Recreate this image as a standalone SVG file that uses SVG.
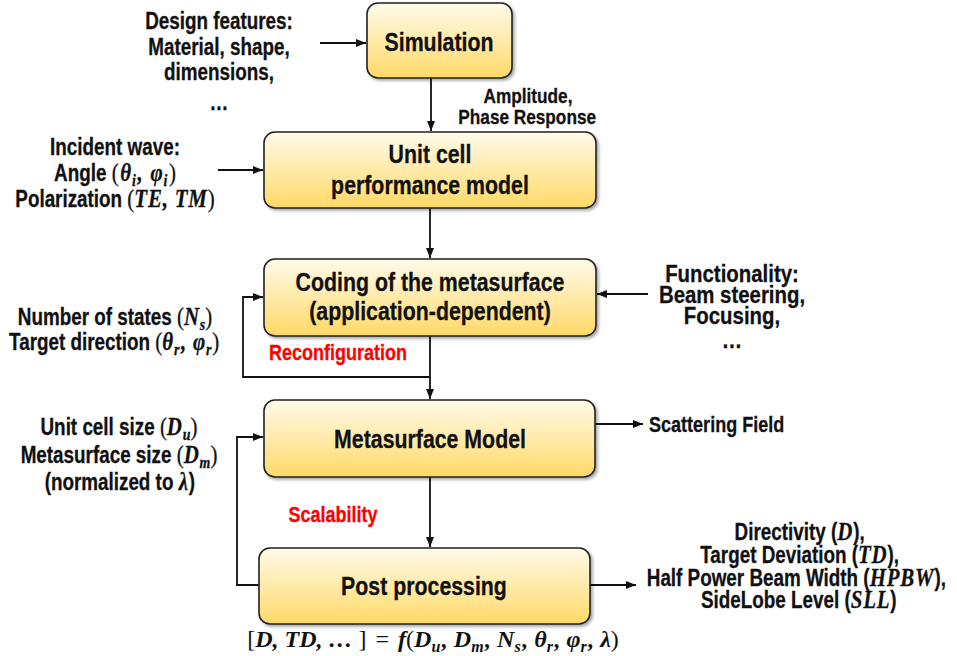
<svg xmlns="http://www.w3.org/2000/svg" width="957" height="656" viewBox="0 0 957 656">
<style>
.t{font-family:"Liberation Sans",Arial,sans-serif;font-weight:bold;fill:#111;stroke:#111;stroke-width:0.3;text-anchor:middle}
.s{font-size:23px}
.b{font-size:26px}
.red{fill:#ff0000;stroke:#ff0000}
.m{font-family:"Liberation Serif","DejaVu Serif",serif;font-style:italic;font-weight:bold;font-size:25.5px;letter-spacing:1px}
.up{font-family:"Liberation Serif","DejaVu Serif",serif;font-weight:normal;font-style:normal;font-size:25.5px}
.sub{font-size:17px;letter-spacing:0}
.box{fill:url(#g);stroke:#222;stroke-width:1.6;filter:url(#sh)}
.c{fill:none;stroke:#111;stroke-width:1.8}
.f{font-family:"Liberation Serif","DejaVu Serif",serif;font-style:italic;font-weight:bold;font-size:24px;fill:#111;text-anchor:middle}
.f .up{font-size:24px}
.f .sub{font-size:16px}
</style>
<defs>
<linearGradient id="g" x1="0" y1="0" x2="0" y2="1">
<stop offset="0" stop-color="#fffbeb"/>
<stop offset="1" stop-color="#ffd966"/>
</linearGradient>
<filter id="sh" x="-10%" y="-10%" width="120%" height="130%">
<feDropShadow dx="2" dy="2" stdDeviation="1.8" flood-color="#000" flood-opacity="0.35"/>
</filter>
<marker id="a" viewBox="0 0 10 8" refX="10" refY="4" markerWidth="10" markerHeight="8" markerUnits="userSpaceOnUse" orient="auto">
<path d="M0,0 L10,4 L0,8 z" fill="#111"/>
</marker>
</defs>

<g id="connectors">
<path class="c" d="M320,43 H366" marker-end="url(#a)"/>
<path class="c" d="M431,78 V131" marker-end="url(#a)"/>
<path class="c" d="M218,170 H263" marker-end="url(#a)"/>
<path class="c" d="M430,208 V258" marker-end="url(#a)"/>
<path class="c" d="M648,294 H597" marker-end="url(#a)"/>
<path class="c" d="M430,377 H243 V297 H263" marker-end="url(#a)"/>
<path class="c" d="M430,336 V399" marker-end="url(#a)"/>
<path class="c" d="M595,424 H643" marker-end="url(#a)"/>
<path class="c" d="M430,477 V547" marker-end="url(#a)"/>
<path class="c" d="M259,585 H237 V437 H263" marker-end="url(#a)"/>
<path class="c" d="M590,585 H636" marker-end="url(#a)"/>
</g>

<g id="simulation">
<rect class="box" x="367" y="3" width="145" height="75" rx="11"/>
<g transform="translate(439,0) scale(0.82,1)">
<text class="t b" x="0" y="51">Simulation</text>
</g>
</g>

<g id="unit-cell">
<rect class="box" x="264" y="132" width="332" height="76" rx="11"/>
<g transform="translate(430,0) scale(0.82,1)">
<text class="t b" x="0" y="163">Unit cell</text>
<text class="t b" x="0" y="194">performance model</text>
</g>
</g>

<g id="coding">
<rect class="box" x="264" y="259" width="332" height="77" rx="11"/>
<g transform="translate(430,0) scale(0.82,1)">
<text class="t b" x="0" y="291">Coding of the metasurface</text>
<text class="t b" x="0" y="320">(application-dependent)</text>
</g>
</g>

<g id="metasurface-model">
<rect class="box" x="264" y="400" width="331" height="77" rx="11"/>
<g transform="translate(430,0) scale(0.82,1)">
<text class="t b" x="0" y="448">Metasurface Model</text>
</g>
</g>

<g id="post-processing">
<rect class="box" x="259" y="548" width="331" height="76" rx="11"/>
<g transform="translate(424,0) scale(0.82,1)">
<text class="t b" x="0" y="595">Post processing</text>
</g>
</g>

<g id="design-features" transform="translate(219,0) scale(0.82,1)">
<text class="t s" x="0" y="29">Design features:</text>
<text class="t s" x="0" y="55">Material, shape,</text>
<text class="t s" x="0" y="80">dimensions,</text>
<text class="t s" x="0" y="110">…</text>
</g>

<g id="amplitude-label" transform="translate(528,0) scale(0.82,1)">
<text class="t" style="font-size:21px" x="0" y="103">Amplitude,</text>
<text class="t" style="font-size:21px" x="-1" y="124">Phase Response</text>
</g>

<g id="incident-wave" transform="translate(115,0) scale(0.82,1)">
<text class="t s" x="0" y="155">Incident wave:</text>
<text class="t s" x="0" y="181">Angle <tspan class="up">(</tspan><tspan class="m" dx="2">θ</tspan><tspan class="m sub" dy="5">i</tspan><tspan class="m" dy="-5" dx="2">, </tspan><tspan class="m" dx="1">φ</tspan><tspan class="m sub" dy="5">i</tspan><tspan class="up" dy="-5" dx="2">)</tspan></text>
<text class="t s" x="0" y="207">Polarization <tspan class="up">(</tspan><tspan class="m">TE, TM</tspan><tspan class="up">)</tspan></text>
</g>

<g id="functionality" transform="translate(732,0) scale(0.85,1)">
<text class="t" style="font-size:24px" x="0" y="282">Functionality:</text>
<text class="t" style="font-size:24px" x="0" y="303">Beam steering,</text>
<text class="t" style="font-size:24px" x="0" y="324">Focusing,</text>
<text class="t" style="font-size:24px" x="0" y="348">…</text>
</g>

<g id="states" transform="translate(115,0) scale(0.82,1)">
<text class="t s" x="0" y="325">Number of states <tspan class="up">(</tspan><tspan class="m">N</tspan><tspan class="m sub" dy="5">s</tspan><tspan class="up" dy="-5">)</tspan></text>
<text class="t s" x="-1" y="350">Target direction <tspan class="up">(</tspan><tspan class="m">θ</tspan><tspan class="m sub" dy="5">r</tspan><tspan class="m" dy="-5" dx="2">, </tspan><tspan class="m">φ</tspan><tspan class="m sub" dy="5">r</tspan><tspan class="up" dy="-5" dx="1">)</tspan></text>
</g>

<g id="reconfiguration" transform="translate(338,0) scale(0.82,1)">
<text class="t red" style="font-size:22px" x="0" y="360">Reconfiguration</text>
</g>

<g id="sizes" transform="translate(119,0) scale(0.82,1)">
<text class="t s" x="0" y="435">Unit cell size <tspan class="up">(</tspan><tspan class="m">D</tspan><tspan class="m sub" dy="5">u</tspan><tspan class="up" dy="-5">)</tspan></text>
<text class="t s" x="0" y="463">Metasurface size <tspan class="up">(</tspan><tspan class="m">D</tspan><tspan class="m sub" dy="5">m</tspan><tspan class="up" dy="-5">)</tspan></text>
<text class="t s" x="1" y="490">(normalized to <tspan class="m">λ</tspan>)</text>
</g>

<g id="scalability" transform="translate(333,0) scale(0.82,1)">
<text class="t red" style="font-size:22px" x="0" y="522">Scalability</text>
</g>

<g id="scattering" transform="translate(649,0) scale(0.82,1)">
<text class="t" style="font-size:22px;text-anchor:start" x="0" y="432">Scattering Field</text>
</g>

<g id="metrics" transform="translate(798,0) scale(0.82,1)">
<text class="t s" x="2" y="540">Directivity (<tspan class="m">D</tspan>),</text>
<text class="t s" x="2" y="563">Target Deviation (<tspan class="m">TD</tspan>),</text>
<text class="t s" x="-2" y="586">Half Power Beam Width (<tspan class="m">HPBW</tspan>),</text>
<text class="t s" x="1" y="608">SideLobe Level (<tspan class="m">SLL</tspan>)</text>
</g>

<g id="formula">
<text class="f" x="433" y="647"><tspan class="up">[</tspan>D, TD, … <tspan class="up">]</tspan>  <tspan class="up" dx="3">=</tspan>  <tspan dx="3">f</tspan><tspan class="up">(</tspan>D<tspan class="sub" dy="5">u</tspan><tspan dy="-5" dx="1.5">, D</tspan><tspan class="sub" dy="5">m</tspan><tspan dy="-5" dx="1.5">, N</tspan><tspan class="sub" dy="5">s</tspan><tspan dy="-5" dx="1.5">, θ</tspan><tspan class="sub" dy="5">r</tspan><tspan dy="-5" dx="1.5">, φ</tspan><tspan class="sub" dy="5">r</tspan><tspan dy="-5" dx="1.5">, λ</tspan><tspan class="up">)</tspan></text>
</g>
</svg>
